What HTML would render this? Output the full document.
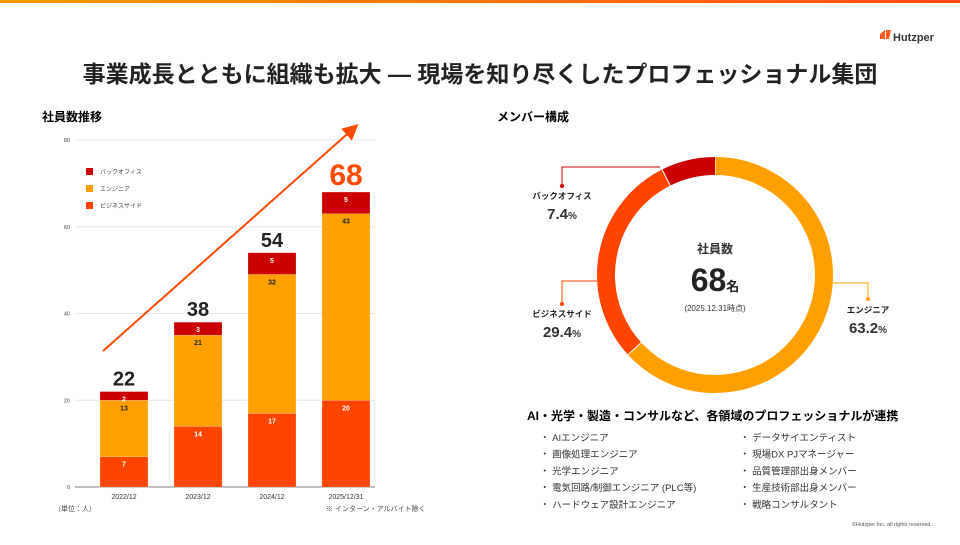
<!DOCTYPE html>
<html><head><meta charset="utf-8"><style>
body{margin:0;width:960px;height:540px;overflow:hidden;background:#fff;font-family:"Liberation Sans","Noto Sans CJK JP",sans-serif;color:#222}
svg text{font-family:"Liberation Sans","Noto Sans CJK JP",sans-serif}
</style></head><body>
<svg width="960" height="540" viewBox="0 0 960 540">
<defs>
<linearGradient id="tg" x1="0" x2="1"><stop offset="0" stop-color="#ff9a00"/><stop offset="1" stop-color="#ff4a00"/></linearGradient>
<marker id="ah" markerWidth="8" markerHeight="8" refX="5" refY="4" orient="auto"><path d="M0,0 L8,4 L0,8 z" fill="#ff4a00"/></marker>
</defs>
<rect x="0" y="0" width="960" height="3" fill="url(#tg)"/>
<g>
<path d="M880,34 l5,-4 l0,9 l-5,0z M886,30 l5,0 l-2,9 l-3,0z" fill="#ff5a1f"/>
<text x="893" y="41" font-size="11" font-weight="bold" fill="#333">Hutzper</text>
</g>
<text x="480" y="82" font-size="23" font-weight="bold" text-anchor="middle" fill="#222">事業成長とともに組織も拡大 ― 現場を知り尽くしたプロフェッショナル集団</text>
<text x="42" y="121" font-size="12" font-weight="bold">社員数推移</text>
<text x="497" y="121" font-size="12" font-weight="bold">メンバー構成</text>
<g id="bars"></g>
<g id="donut"></g>
<text x="54" y="511" font-size="7" fill="#444">（単位：人）</text>
<text x="326" y="511" font-size="7" fill="#444">※ インターン・アルバイト除く</text>
<text x="527" y="420" font-size="12" font-weight="bold">AI・光学・製造・コンサルなど、各領域のプロフェッショナルが連携</text>
<g id="lists" font-size="9.5" fill="#333"></g>
<text x="932" y="526" font-size="5.5" fill="#555" text-anchor="end">©Hutzper Inc. all rights reserved.</text>
</svg>
<script>
const categories=["2022/12","2023/12","2024/12","2025/12/31"];
const business=[7,14,17,20];
const engineer=[13,21,32,43];
const backoffice=[2,3,5,5];
const yTicks=[0,20,40,60,80];
const shares=[63.2,29.4,7.4];
const shareNames=["エンジニア","ビジネスサイド","バックオフィス"];
const col1=["AIエンジニア","画像処理エンジニア","光学エンジニア","電気回路/制御エンジニア (PLC等)","ハードウェア設計エンジニア"];
const col2=["データサイエンティスト","現場DX  PJマネージャー","品質管理部出身メンバー","生産技術部出身メンバー","戦略コンサルタント"];
const NS="http://www.w3.org/2000/svg";
function mk(p,t,a,txt){const e=document.createElementNS(NS,t);for(const k in a)e.setAttribute(k,a[k]);if(txt!==undefined)e.textContent=txt;p.appendChild(e);return e;}
const y0=487,y80=140;const y=v=>y0-(y0-y80)*v/80;
const xc=i=>124+i*74;const bw=48;
const C={b:"#ff4500",e:"#ffa000",o:"#cc0000"};
const g=document.getElementById("bars");
yTicks.forEach(t=>{
 const l=mk(g,"line",{x1:75,x2:375,y1:y(t),y2:y(t),stroke:t===0?"#999":"#e6e6e6","stroke-width":t===0?1.2:1});
 
 
 const tx=mk(g,"text",{x:70,y:y(t)+2,"font-size":5.5,"text-anchor":"end",fill:"#444"},t);
 
 
});
categories.forEach((c,i)=>{
 const x=xc(i)-bw/2;
 const segs=[[business[i],0,C.b,"#fff"],[engineer[i],business[i],C.e,"#222"],[backoffice[i],business[i]+engineer[i],C.o,"#fff"]];
 segs.forEach((s,j)=>{
  const r=mk(g,"rect",{x:x,y:y(s[1]+s[0]),width:bw,height:y(s[1])-y(s[1]+s[0]),fill:s[2],stroke:"#fff","stroke-opacity":0.4,"stroke-width":0.5});
  
  
  const t=mk(g,"text",{x:xc(i),y:y(s[1]+s[0])+10,"font-size":7,"font-weight":"bold","text-anchor":"middle",fill:s[3]},s[0]);
  
  
 });
 const tot=business[i]+engineer[i]+backoffice[i];
 const last=i===categories.length-1;
 const tl=mk(g,"text",{x:xc(i),y:y(tot)-(last?7:6),"font-size":last?30:20,"font-weight":"bold","text-anchor":"middle",fill:last?"#ff4a00":"#222"},tot);
 
 
 const xl=mk(g,"text",{x:xc(i),y:499,"font-size":7,"text-anchor":"middle",fill:"#333"},c);
 
 
});
const ar=mk(g,"line",{x1:103,y1:351,x2:354,y2:128,stroke:"#ff4a00","stroke-width":2,"marker-end":"url(#ah)"});


[["バックオフィス",C.o],["エンジニア",C.e],["ビジネスサイド",C.b]].forEach((l,k)=>{
 const r=mk(g,"rect",{x:86,y:168+k*17,width:7,height:7,fill:l[1]});
 
 
 const t=mk(g,"text",{x:100,y:174+k*17,"font-size":6,fill:"#444"},l[0]);
 
 
});
const d=document.getElementById("donut");
const cx=715,cy=275,R=109,SW=18,off=0;
const dcol=[C.e,C.b,C.o];
let acc=0;const tot=shares.reduce((a,b)=>a+b,0);
function pt(a,r){const rad=(a-90)*Math.PI/180;return [cx+r*Math.cos(rad),cy+r*Math.sin(rad)];}
shares.forEach((s,i)=>{
 const a0=off+acc/tot*360,a1=off+(acc+s)/tot*360;acc+=s;
 const p0=pt(a0,R),p1=pt(a1,R);
 const p=mk(d,"path",{d:`M${p0[0]},${p0[1]} A${R},${R} 0 ${a1-a0>180?1:0} 1 ${p1[0]},${p1[1]}`,fill:"none",stroke:dcol[i],"stroke-width":SW});
 
 
 const sep=pt(a0,R-SW/2),sep2=pt(a0,R+SW/2);
 const sl=mk(d,"line",{x1:sep[0],y1:sep[1],x2:sep2[0],y2:sep2[1],stroke:"#fff","stroke-width":1});
 
 
});
const callouts=[
 {n:0,path:"M833,283 H868 V299",dot:[868,299],lx:868,ly:313},
 {n:1,path:"M597,281 H562 V304",dot:[562,304],lx:562,ly:317},
 {n:2,path:"M660,167 H562 V186",dot:[562,186],lx:562,ly:199}
];
callouts.forEach(c=>{
 const p=mk(d,"path",{d:c.path,fill:"none",stroke:dcol[c.n],"stroke-width":1});
 
 
 const dt=mk(d,"circle",{cx:c.dot[0],cy:c.dot[1],r:2,fill:dcol[c.n]});
 
 
 const t=mk(d,"text",{x:c.lx,y:c.ly,"font-size":8.5,"font-weight":"bold","text-anchor":"middle",fill:"#222"},shareNames[c.n]);
 
 
 const v=mk(d,"text",{x:c.lx,y:c.ly+20,"font-size":15,"font-weight":"bold","text-anchor":"middle",fill:"#333"});
 
 
 v.textContent=shares[c.n].toFixed(1);
 mk(v,"tspan",{"font-size":10},"%");
});
const ct=[["社員数",cx,253,12,"bold"],["(2025.12.31時点)",cx,311,8,"normal"]];
ct.forEach(c=>{const t=mk(d,"text",{x:c[1],y:c[2],"font-size":c[3],"font-weight":c[4],"text-anchor":"middle",fill:"#333"},c[0]);
 
 });
const big=mk(d,"text",{x:cx,y:291,"font-size":32,"font-weight":"bold","text-anchor":"middle",fill:"#222"},"68");


mk(big,"tspan",{"font-size":13},"名");
const L=document.getElementById("lists");
[[col1,540],[col2,740]].forEach(([arr,x])=>arr.forEach((s,i)=>{
 const t=mk(L,"text",{x:x,y:441+i*16.7},"・ "+s);
 
 
}));
</script>
</body></html>
